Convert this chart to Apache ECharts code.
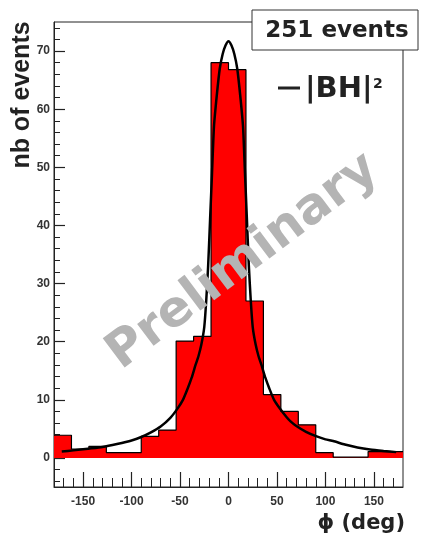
<!DOCTYPE html>
<html>
<head>
<meta charset="utf-8">
<title>phi distribution</title>
<style>
html, body { margin: 0; padding: 0; background: #fff; }
#main { width: 423px; height: 535px; }
</style>
</head>
<body>
<div id="main"></div>
<script src="https://cdn.jsdelivr.net/npm/echarts@6/dist/echarts.min.js"></script>
<script>
// histogram: 20 bins of 18 deg
var binEdges = [-180, -162, -144, -126, -108, -90, -72, -54, -36, -18, 0,
                18, 36, 54, 72, 90, 108, 126, 144, 162, 180];
var counts = [3.9, 1.5, 2.0, 0.9, 0.9, 3.7, 4.8, 20.1, 20.9, 68.0,
              66.8, 27.0, 10.9, 8.0, 5.7, 0.9, 0.15, 0.15, 1.1, 1.1];

// |BH|^2 curve
var curvePhi = [-172, -160, -145, -130, -115, -100, -90, -80, -70, -60, -53, -47, -42, -38,
                -34, -31, -28, -25, -23, -21, -19, -17, -15, -12, -9, -6, -3, 0,
                3, 6, 9, 12, 15, 17, 19, 21, 23, 25, 28, 31, 34, 38, 42, 47, 53,
                60, 64, 70, 80, 91, 100, 108, 120, 133, 146, 160, 173];
var curveVal = [1.1, 1.3, 1.6, 1.9, 2.4, 3.0, 3.6, 4.4, 5.4, 6.9, 8.4, 10, 12, 13.8,
                16, 17.5, 19.5, 22.5, 27, 33, 41, 49, 57, 62.5, 67, 69.5, 71, 71.7,
                71, 69.5, 67, 62.5, 57, 49, 41, 33, 27, 22.5, 19.5, 17.5, 16, 13.8, 12, 10, 8.5,
                7, 6.3, 5.5, 4.5, 3.7, 3.2, 2.9, 2.3, 1.8, 1.45, 1.2, 1.0];

var xMajor = [-150, -100, -50, 0, 50, 100, 150];
var yMajor = [0, 10, 20, 30, 40, 50, 60, 70];

var xMinor = [];
for (var v = -170; v <= 170; v += 10) xMinor.push(v);
var yMinor = [];
for (var w = -4; w <= 74; w += 2) yMinor.push(w);

var histData = [];
for (var i = 0; i < counts.length; i++) histData.push([binEdges[i], counts[i]]);
histData.push([binEdges[binEdges.length - 1], counts[counts.length - 1]]);

var curveData = [];
for (var j = 0; j < curvePhi.length; j++) curveData.push([curvePhi[j], curveVal[j]]);

var tickColor = '#222';
var labelStyle = {
    fontFamily: 'Liberation Sans',
    fontWeight: 'bold',
    fontSize: 12,
    color: '#333'
};

var chart = echarts.init(document.getElementById('main'));
var option = {
    animation: false,
    backgroundColor: '#fff',
    grid: {
        left: 54, right: 20, top: 22, bottom: 48,
        show: true,
        borderColor: '#222',
        borderWidth: 1
    },
    xAxis: [{
        type: 'value', min: -180, max: 180, position: 'bottom',
        axisLine: { onZero: false, lineStyle: { color: tickColor, width: 1 } },
        axisTick: { inside: true, length: 15, customValues: xMajor, lineStyle: { color: tickColor, width: 1.2 } },
        axisLabel: Object.assign({ customValues: xMajor, margin: 9 }, labelStyle),
        splitLine: { show: false },
        name: 'ϕ (deg)',
        nameLocation: 'end',
        nameGap: 2,
        nameTextStyle: {
            fontFamily: 'DejaVu Sans', fontWeight: 'bold', fontSize: 21, color: '#222',
            align: 'right', verticalAlign: 'top', padding: [26, 0, 0, 0]
        }
    }, {
        type: 'value', min: -180, max: 180, position: 'bottom',
        axisLine: { show: false, onZero: false },
        axisTick: { inside: true, length: 9, customValues: xMinor, lineStyle: { color: tickColor, width: 1 } },
        axisLabel: { show: false },
        splitLine: { show: false }
    }],
    yAxis: [{
        type: 'value', min: -5, max: 75, position: 'left',
        axisLine: { onZero: false, lineStyle: { color: tickColor, width: 1 } },
        axisTick: { inside: true, length: 11, customValues: yMajor, lineStyle: { color: tickColor, width: 1.2 } },
        axisLabel: Object.assign({ customValues: yMajor, margin: 4 }, labelStyle),
        splitLine: { show: false }
    }, {
        type: 'value', min: -5, max: 75, position: 'left',
        axisLine: { show: false, onZero: false },
        axisTick: { inside: true, length: 6, customValues: yMinor, lineStyle: { color: tickColor, width: 1 } },
        axisLabel: { show: false },
        splitLine: { show: false }
    }],
    series: [{
        name: 'data',
        type: 'line',
        step: 'end',
        data: histData,
        symbol: 'none',
        lineStyle: { color: '#000', width: 1.2 },
        areaStyle: { color: '#ff0000', opacity: 1 },
        z: 2
    }, {
        name: '|BH|²',
        type: 'line',
        data: curveData,
        symbol: 'none',
        smooth: 0.2,
        lineStyle: { color: '#000', width: 2.5 },
        z: 3
    }],
    graphic: [{
        type: 'text',
        x: 243, y: 262,
        rotation: 37 * Math.PI / 180,
        z: 50,
        style: {
            text: 'Preliminary',
            font: 'bold 50px "DejaVu Sans"',
            fill: '#b4b4b4',
            textAlign: 'center',
            textVerticalAlign: 'middle'
        }
    }, {
        type: 'text',
        x: 22, y: 95,
        rotation: Math.PI / 2,
        z: 60,
        style: {
            text: 'nb of events',
            font: 'bold 25px "Liberation Sans"',
            fill: '#222',
            textAlign: 'center',
            textVerticalAlign: 'middle'
        }
    }, {
        type: 'rect',
        z: 60,
        shape: { x: 252, y: 10, width: 166, height: 40 },
        style: { fill: '#fff', stroke: '#333', lineWidth: 1 }
    }, {
        type: 'text',
        x: 337, y: 31,
        z: 61,
        style: {
            text: '251 events',
            font: 'bold 23px "DejaVu Sans"',
            fill: '#222',
            textAlign: 'center',
            textVerticalAlign: 'middle'
        }
    }, {
        type: 'line',
        z: 60,
        shape: { x1: 278, y1: 88, x2: 300, y2: 88 },
        style: { stroke: '#222', lineWidth: 3 }
    }, {
        type: 'text',
        x: 305, y: 89,
        z: 60,
        style: {
            text: '|BH|',
            font: 'bold 29px "DejaVu Sans"',
            fill: '#222',
            textAlign: 'left',
            textVerticalAlign: 'middle'
        }
    }, {
        type: 'text',
        x: 373, y: 77,
        z: 60,
        style: {
            text: '2',
            font: 'bold 14px "DejaVu Sans"',
            fill: '#222',
            textAlign: 'left',
            textVerticalAlign: 'top'
        }
    }]
};
chart.setOption(option);
</script>
</body>
</html>
